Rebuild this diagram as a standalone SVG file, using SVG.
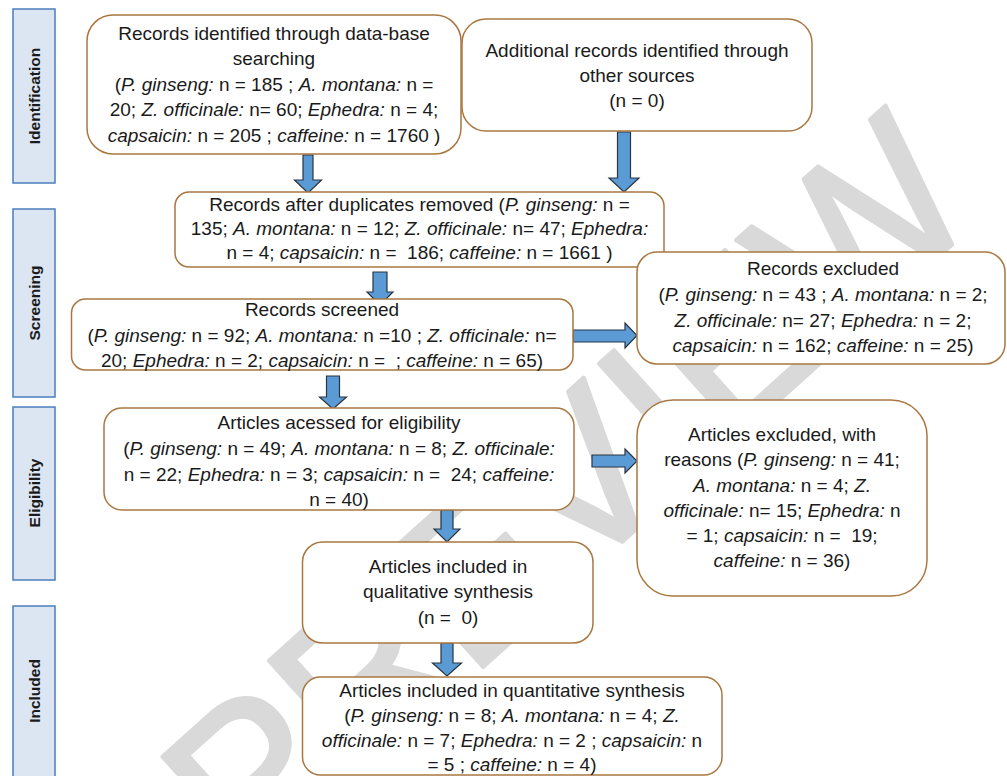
<svg xmlns="http://www.w3.org/2000/svg" width="1007" height="776" viewBox="0 0 1007 776">
<style>
  .box { fill: #ffffff; stroke: #a9773f; stroke-width: 1.5; }
  .side { fill: #dce6f2; stroke: #4a7ebb; stroke-width: 1.5; }
  .sidetxt { font-family: "Liberation Sans", Arial, sans-serif; font-weight: bold; font-size: 15.5px; fill: #1a1a1a; text-anchor: middle; dominant-baseline: central; }
  .t { font-family: "Liberation Sans", Arial, sans-serif; font-size: 19px; fill: #1a1a1a; text-anchor: middle; white-space: pre; }
  .i { font-style: italic; }
  .arr { fill: #5b9bd5; stroke: #2a3440; stroke-width: 1.2; stroke-linejoin: miter; }
  .wm { font-family: "Liberation Sans", Arial, sans-serif; font-size: 215px; fill: #d9d9d9; stroke: #d9d9d9; stroke-width: 4; stroke-linejoin: round; text-anchor: end; }
</style>
<rect width="1007" height="776" fill="#ffffff"/>
<g id="watermark">
  <text class="wm" transform="translate(985,215) rotate(-42)">PROOF PREVIEW</text>
</g>
<g id="phases">
  <g id="phase-identification"><rect class="side" x="13" y="9" width="42" height="174"/><text class="sidetxt" transform="translate(34,96) rotate(-90)">Identification</text></g>
  <g id="phase-screening"><rect class="side" x="13" y="209" width="42" height="188"/><text class="sidetxt" transform="translate(34,303) rotate(-90)">Screening</text></g>
  <g id="phase-eligibility"><rect class="side" x="13" y="407" width="42" height="173"/><text class="sidetxt" transform="translate(34,493) rotate(-90)">Eligibility</text></g>
  <g id="phase-included"><rect class="side" x="13" y="606" width="42" height="180"/><text class="sidetxt" transform="translate(34,691) rotate(-90)">Included</text></g>
</g>
<g id="connectors">
  <path class="arr" d="M303,155 H313 V180 H321.5 L308,193 L294.5,180 H303 Z"/>
  <path class="arr" d="M617.5,132 H630.5 V178 H639 L624,192 L609,178 H617.5 Z"/>
  <path class="arr" d="M373,272 H387 V292 H393 L380,305 L367,292 H373 Z"/>
  <path class="arr" d="M326.5,376 H339.5 V397 H346.5 L333,409 L319.5,397 H326.5 Z"/>
  <path class="arr" d="M441,510 H453 V529 H460 L447,542 L434,529 H441 Z"/>
  <path class="arr" d="M441,643 H453 V663 H461.5 L447,676 L432.5,663 H441 Z"/>
  <path class="arr" d="M573,330 H625 V323 L637,335.5 L625,348 V342 H573 Z"/>
  <path class="arr" d="M592,455 H625 V449 L637,461 L625,473 V467 H592 Z"/>
</g>
<g id="node-db-search">
  <rect class="box" x="87" y="15" width="374" height="139" rx="26"/>
  <text class="t" x="274" y="40">Records identified through data-base</text>
  <text class="t" x="274" y="65">searching</text>
  <text class="t" x="274" y="91">(<tspan class="i">P. ginseng:</tspan> n = 185 ; <tspan class="i">A. montana:</tspan> n =</text>
  <text class="t" x="274" y="116">20; <tspan class="i">Z. officinale:</tspan> n= 60; <tspan class="i">Ephedra:</tspan> n = 4;</text>
  <text class="t" x="274" y="142"><tspan class="i">capsaicin:</tspan> n = 205 ; <tspan class="i">caffeine:</tspan> n = 1760 )</text>
</g>
<g id="node-other-sources">
  <rect class="box" x="462" y="19" width="350" height="112" rx="24"/>
  <text class="t" x="637" y="57">Additional records identified through</text>
  <text class="t" x="637" y="82">other sources</text>
  <text class="t" x="637" y="107">(n = 0)</text>
</g>
<g id="node-duplicates-removed">
  <rect class="box" x="175" y="192" width="489" height="75" rx="14"/>
  <text class="t" x="419.5" y="211">Records after duplicates removed (<tspan class="i">P. ginseng:</tspan> n =</text>
  <text class="t" x="419.5" y="235">135; <tspan class="i">A. montana:</tspan> n = 12; <tspan class="i">Z. officinale:</tspan> n= 47; <tspan class="i">Ephedra:</tspan></text>
  <text class="t" x="419.5" y="259">n = 4; <tspan class="i">capsaicin:</tspan> n =  186; <tspan class="i">caffeine:</tspan> n = 1661 )</text>
</g>
<g id="node-screened">
  <rect class="box" x="71.5" y="299" width="501.5" height="71" rx="14"/>
  <text class="t" x="322" y="316">Records screened</text>
  <text class="t" x="322" y="342">(<tspan class="i">P. ginseng:</tspan> n = 92; <tspan class="i">A. montana:</tspan> n =10 ; <tspan class="i">Z. officinale:</tspan> n=</text>
  <text class="t" x="322" y="367">20; <tspan class="i">Ephedra:</tspan> n = 2; <tspan class="i">capsaicin:</tspan> n =  ; <tspan class="i">caffeine:</tspan> n = 65)</text>
</g>
<g id="node-records-excluded">
  <rect class="box" x="637" y="252" width="368" height="112" rx="20"/>
  <text class="t" x="823" y="275">Records excluded</text>
  <text class="t" x="823" y="301">(<tspan class="i">P. ginseng:</tspan> n = 43 ; <tspan class="i">A. montana:</tspan> n = 2;</text>
  <text class="t" x="823" y="327"><tspan class="i">Z. officinale:</tspan> n= 27; <tspan class="i">Ephedra:</tspan> n = 2;</text>
  <text class="t" x="823" y="352"><tspan class="i">capsaicin:</tspan> n = 162; <tspan class="i">caffeine:</tspan> n = 25)</text>
</g>
<g id="node-eligibility">
  <rect class="box" x="104" y="408" width="470" height="102" rx="18"/>
  <text class="t" x="339" y="429">Articles acessed for eligibility</text>
  <text class="t" x="339" y="455">(<tspan class="i">P. ginseng:</tspan> n = 49; <tspan class="i">A. montana:</tspan> n = 8; <tspan class="i">Z. officinale:</tspan></text>
  <text class="t" x="339" y="481">n = 22; <tspan class="i">Ephedra:</tspan> n = 3; <tspan class="i">capsaicin:</tspan> n =  24; <tspan class="i">caffeine:</tspan></text>
  <text class="t" x="339" y="506">n = 40)</text>
</g>
<g id="node-articles-excluded">
  <rect class="box" x="637" y="400" width="290" height="196" rx="36"/>
  <text class="t" x="782" y="441">Articles excluded, with</text>
  <text class="t" x="782" y="466">reasons (<tspan class="i">P. ginseng:</tspan> n = 41;</text>
  <text class="t" x="782" y="492"><tspan class="i">A. montana:</tspan> n = 4; <tspan class="i">Z.</tspan></text>
  <text class="t" x="782" y="517"><tspan class="i">officinale:</tspan> n= 15; <tspan class="i">Ephedra:</tspan> n</text>
  <text class="t" x="782" y="542">= 1; <tspan class="i">capsaicin:</tspan> n =  19;</text>
  <text class="t" x="782" y="567"><tspan class="i">caffeine:</tspan> n = 36)</text>
</g>
<g id="node-qualitative">
  <rect class="box" x="302.5" y="542" width="290.5" height="101" rx="20"/>
  <text class="t" x="448" y="573">Articles included in</text>
  <text class="t" x="448" y="598">qualitative synthesis</text>
  <text class="t" x="448" y="624">(n =  0)</text>
</g>
<g id="node-quantitative">
  <rect class="box" x="302.5" y="677" width="419.5" height="98" rx="18"/>
  <text class="t" x="512" y="697">Articles included in quantitative synthesis</text>
  <text class="t" x="512" y="722">(<tspan class="i">P. ginseng:</tspan> n = 8; <tspan class="i">A. montana:</tspan> n = 4; <tspan class="i">Z.</tspan></text>
  <text class="t" x="512" y="747"><tspan class="i">officinale:</tspan> n = 7; <tspan class="i">Ephedra:</tspan> n = 2 ; <tspan class="i">capsaicin:</tspan> n</text>
  <text class="t" x="512" y="771">= 5 ; <tspan class="i">caffeine:</tspan> n = 4)</text>
</g>
</svg>
